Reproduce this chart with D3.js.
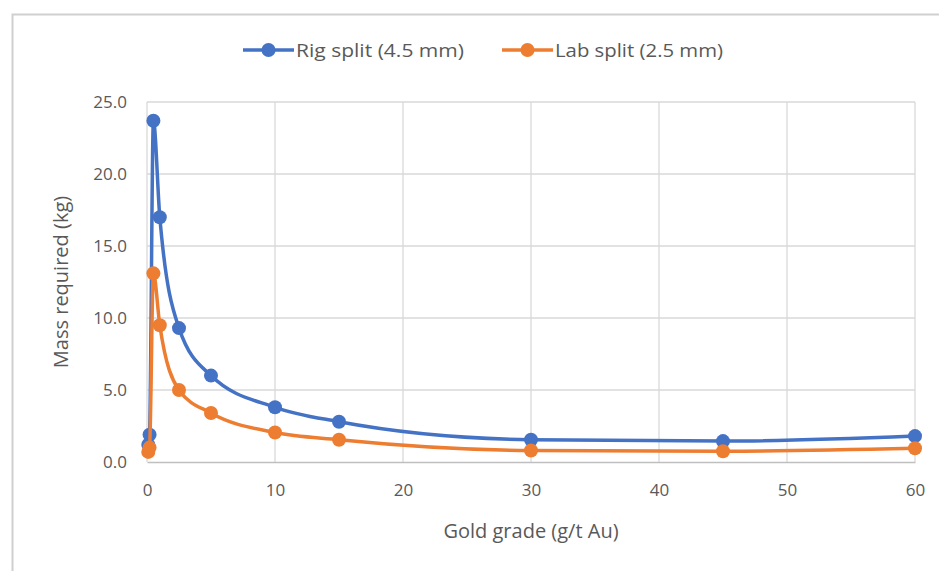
<!DOCTYPE html>
<html><head><meta charset="utf-8">
<script src="https://cdn.jsdelivr.net/npm/d3@7"></script>
<style>body{margin:0;background:#fff;} text{font-family:"Open Sans",sans-serif;fill:#595959;}</style>
</head><body>
<svg id="c" width="939" height="571"></svg>
<script>
const grades = [0.1, 0.2, 0.5, 1, 2.5, 5, 10, 15, 30, 45, 60];
const rigSplit = [1.2, 1.9, 23.7, 17.0, 9.3, 6.0, 3.8, 2.8, 1.55, 1.45, 1.8];
const labSplit = [0.7, 1.0, 13.1, 9.5, 5.0, 3.4, 2.05, 1.55, 0.8, 0.75, 0.95];
const seriesNames = ["Rig split (4.5 mm)", "Lab split (2.5 mm)"];
const seriesColors = ["#4472C4", "#ED7D31"];
const xTicks = [0, 10, 20, 30, 40, 50, 60];
const yTicks = [0, 5, 10, 15, 20, 25];
const xTitle = "Gold grade (g/t Au)";
const yTitle = "Mass required (kg)";

const svg = d3.select("#c");
svg.append("rect").attr("x", 12.5).attr("y", 14.5).attr("width", 960).attr("height", 600)
  .attr("fill", "#fff").attr("stroke", "#d0d0d0").attr("stroke-width", 2);

const x = d3.scaleLinear().domain([0, 60]).range([147, 915]);
const y = d3.scaleLinear().domain([0, 25]).range([462, 102]);

// gridlines
svg.append("g").selectAll("line").data(yTicks.filter(d => d > 0)).join("line")
  .attr("x1", x(0)).attr("x2", x(60)).attr("y1", d => y(d)).attr("y2", d => y(d))
  .attr("stroke", "#d9d9d9").attr("stroke-width", 1.3);
svg.append("g").selectAll("line").data(xTicks).join("line")
  .attr("x1", d => x(d)).attr("x2", d => x(d)).attr("y1", y(0)).attr("y2", y(25))
  .attr("stroke", "#d9d9d9").attr("stroke-width", 1.3);

// x axis
const xAxis = svg.append("g").attr("transform", `translate(0,${y(0)})`)
  .call(d3.axisBottom(x).tickValues(xTicks).tickSize(0).tickPadding(22).tickFormat(d3.format("d")));
xAxis.select(".domain").attr("stroke", "#bfbfbf").attr("stroke-width", 1.5);
xAxis.selectAll("text").style("font-size", "17px").style("font-family", "Open Sans").attr("fill", "#595959");

const yAxis = svg.append("g").attr("transform", `translate(${x(0)},0)`)
  .call(d3.axisLeft(y).tickValues(yTicks).tickSize(0).tickPadding(20).tickFormat(d3.format(".1f")));
yAxis.select(".domain").remove();
yAxis.selectAll("text").style("font-size", "17px").style("font-family", "Open Sans").attr("fill", "#595959");

svg.append("text").attr("x", 531).attr("y", 538).attr("text-anchor", "middle")
  .style("font-size", "20px").text(xTitle);
svg.append("text").attr("transform", "translate(68,282) rotate(-90)").attr("text-anchor", "middle")
  .style("font-size", "20px").text(yTitle);

const line = d3.line().x(d => x(d[0])).y(d => y(d[1])).curve(d3.curveMonotoneX);
[rigSplit, labSplit].forEach((vals, i) => {
  const pts = grades.map((g, j) => [g, vals[j]]);
  svg.append("path").datum(pts).attr("d", line).attr("fill", "none")
    .attr("stroke", seriesColors[i]).attr("stroke-width", 3.5);
  svg.append("g").selectAll("circle").data(pts).join("circle")
    .attr("cx", d => x(d[0])).attr("cy", d => y(d[1])).attr("r", 7)
    .attr("fill", seriesColors[i]);
});

// legend
const legX = [243, 502];
seriesNames.forEach((n, i) => {
  const g = svg.append("g").attr("transform", `translate(${legX[i]},50)`);
  g.append("line").attr("x1", 0).attr("x2", 51).attr("y1", 0).attr("y2", 0)
    .attr("stroke", seriesColors[i]).attr("stroke-width", 3.5);
  g.append("circle").attr("cx", 25.5).attr("cy", 0).attr("r", 7).attr("fill", seriesColors[i]);
  g.append("text").attr("x", 53).attr("y", 7).style("font-size", "19px")
    .attr("textLength", 168).attr("lengthAdjust", "spacingAndGlyphs").text(n);
});
</script>
</body></html>
